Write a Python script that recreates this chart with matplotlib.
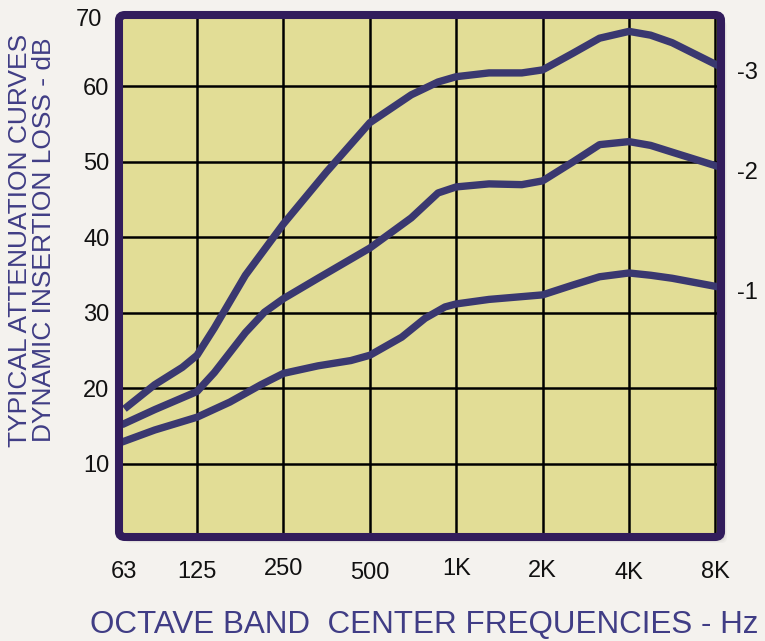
import numpy as np
import matplotlib.pyplot as plt
from matplotlib.patches import FancyBboxPatch
from matplotlib.transforms import ScaledTranslation

# octave bands (plotted at index 0..7) and curve readings (attenuation in dB)
bands = ['63', '125', '250', '500', '1K', '2K', '4K', '8K']

x_3 = [0.16, 0.51, 0.83, 1.0, 1.2, 1.56, 2.0, 2.5, 3.0, 3.48, 3.79, 4.0, 4.38, 4.76, 5.0, 5.35, 5.66, 6.0, 6.25, 6.5, 7.06]
attn_3 = [17.3, 20.5, 22.8, 24.4, 28.0, 35.0, 41.8, 48.7, 55.2, 58.9, 60.6, 61.3, 61.8, 61.8, 62.2, 64.4, 66.4, 67.3, 66.8, 65.8, 62.6]

x_2 = [0.13, 0.51, 1.0, 1.2, 1.56, 1.78, 2.0, 2.4, 3.0, 3.48, 3.79, 4.0, 4.38, 4.76, 5.0, 5.35, 5.66, 6.0, 6.25, 6.5, 7.06]
attn_2 = [15.2, 17.2, 19.6, 22.1, 27.4, 30.1, 31.9, 34.6, 38.6, 42.6, 45.9, 46.7, 47.1, 47.0, 47.5, 50.0, 52.3, 52.7, 52.2, 51.3, 49.3]

x_1 = [0.13, 0.51, 1.0, 1.38, 1.74, 2.0, 2.4, 2.78, 3.0, 3.37, 3.64, 3.87, 4.0, 4.38, 5.0, 5.35, 5.66, 6.0, 6.25, 6.5, 7.06]
attn_1 = [12.9, 14.5, 16.2, 18.2, 20.5, 22.0, 23.0, 23.7, 24.4, 26.8, 29.3, 30.8, 31.2, 31.8, 32.4, 33.7, 34.8, 35.3, 35.0, 34.6, 33.4]

curve_names = ['-3', '-2', '-1']
y_ticks = [10, 20, 30, 40, 50, 60]

plt.rcParams['font.family'] = ['Liberation Sans', 'DejaVu Sans']

bg = '#f4f2ee'
frame_col = '#321d5c'
line_col = '#3a3870'
text_col = '#403d85'

fig = plt.figure(figsize=(7.65, 6.41), dpi=100, facecolor=bg)
ax = fig.add_axes([119 / 765, 1 - 537 / 641, (721 - 119) / 765, (537 - 15) / 641])
ax.set_facecolor('#e2dd96')

# soft shadow behind the frame (right / bottom)
pos = ax.get_position()
for i, a in enumerate([0.04, 0.05, 0.06, 0.08]):
    off = (5 - i) * 1.2 / 765
    sh = FancyBboxPatch((pos.x0 + off, pos.y0 - off * 765 / 641), pos.width, pos.height,
                        boxstyle='round,pad=0,rounding_size=0.008',
                        transform=fig.transFigure, facecolor='#444444', edgecolor='none',
                        alpha=a, zorder=-5)
    fig.patches.append(sh)

for xs, vals, name in zip([x_3, x_2, x_1], [attn_3, attn_2, attn_1], curve_names):
    ax.plot(xs, vals, color=line_col, lw=5.3, solid_capstyle='butt',
            solid_joinstyle='round', zorder=3)
    ax.text(7.25, vals[-1] - 0.8, name, fontsize=17, color='#111111',
            ha='left', va='center', clip_on=False)

# band 63 sits on the left frame, so it is written as text; the rest are ticks
ax.set_xticks(range(1, len(bands)))
ax.set_xticklabels(bands[1:])
ax.set_yticks(y_ticks)
ax.set_xlim(0.097, 7.065)
ax.set_ylim(0.33, 69.47)
ax.tick_params(axis='x', length=0, pad=17, labelsize=17, labelcolor='#111111')
ax.tick_params(axis='y', length=0, pad=7, labelsize=17, labelcolor='#111111')
ax.text(0.15, -0.068, bands[0], transform=ax.get_xaxis_transform(), fontsize=17,
        color='#111111', ha='center', va='center')
ax.text(-0.1, 68.8, '70', fontsize=17, color='#111111', ha='right', va='center')

# the printed labels sit slightly staggered
shift_px = [0, 3, -1, 3, 1, -1, 0]
for lab, d in zip(ax.get_xticklabels(), shift_px):
    lab.set_transform(lab.get_transform() + ScaledTranslation(0, d / 100, fig.dpi_scale_trans))

ax.grid(True, color='black', lw=1.8, zorder=1)
ax.set_axisbelow(True)
for s in ax.spines.values():
    s.set_visible(False)

frame = FancyBboxPatch((0, 0), 1, 1, boxstyle='round,pad=0,rounding_size=0.01',
                       transform=ax.transAxes, facecolor='none', edgecolor=frame_col,
                       lw=5.8, clip_on=False, zorder=5)
ax.add_patch(frame)

fig.text(424 / 765, 1 - 625 / 641, 'OCTAVE BAND  CENTER FREQUENCIES - Hz',
         fontsize=22.6, color=text_col, ha='center', va='center')
fig.text(32 / 765, 1 - 240 / 641, 'TYPICAL ATTENUATION CURVES\nDYNAMIC INSERTION LOSS - dB',
         fontsize=19, color=text_col, rotation=90, ha='center', va='center',
         multialignment='center', linespacing=0.95)

fig.savefig('out.png', dpi=100, facecolor=bg)
